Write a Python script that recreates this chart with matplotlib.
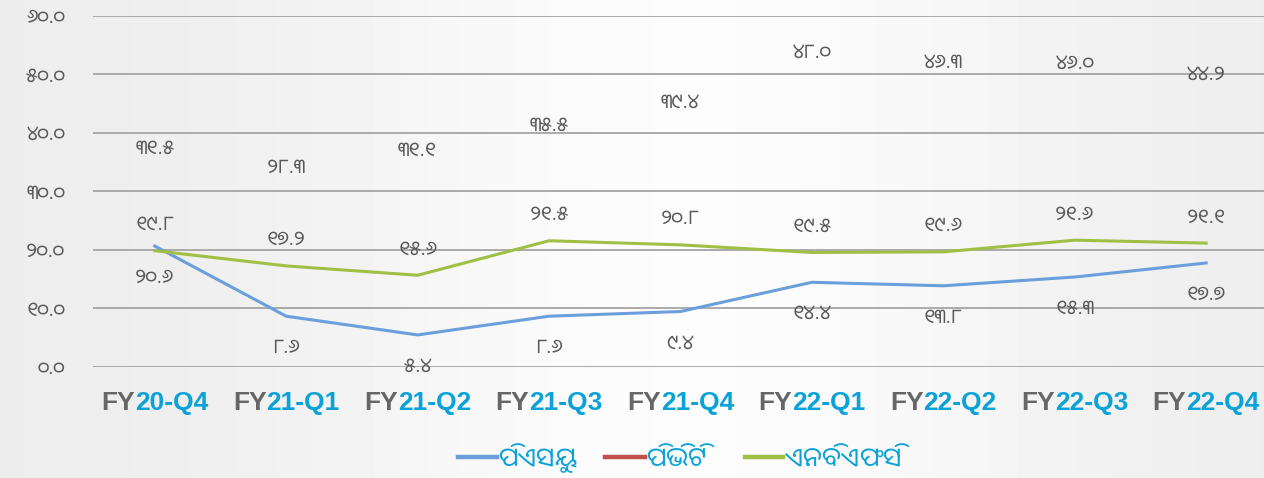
import matplotlib
matplotlib.use("Agg")
import matplotlib.pyplot as plt
import numpy as np
import unicodedata
from matplotlib.lines import Line2D
from matplotlib import font_manager as fm
from matplotlib.ft2font import FT2Font

# ---------------- data ----------------
categories = ["FY20-Q4", "FY21-Q1", "FY21-Q2", "FY21-Q3", "FY21-Q4",
              "FY22-Q1", "FY22-Q2", "FY22-Q3", "FY22-Q4"]
psu = [20.6, 8.6, 5.4, 8.6, 9.4, 14.4, 13.8, 15.3, 17.7]
pvt = [31.5, 28.3, 31.1, 35.5, 39.4, 48.0, 46.3, 46.0, 44.2]
nbfc = [19.8, 17.2, 15.6, 21.5, 20.8, 19.5, 19.6, 21.6, 21.1]
series_names = ["ପିଏସୟୁ", "ପିଭିଟି", "ଏନବିଏଫସି"]
yticks = [0, 10, 20, 30, 40, 50, 60]

ODIA = str.maketrans("0123456789", "୦୧୨୩୪୫୬୭୮୯")
def od(v):
    return f"{v:.1f}".translate(ODIA)

ODIA_FONT = ["Noto Sans Oriya", "DejaVu Sans"]
BLUE = "#6a9fdb"
RED = "#c0504d"
GREEN = "#a0bf45"
CYAN = "#0aa2d8"
GRAYTXT = "#595959"
NUM_SIZE = 14.5

plt.rcParams["mathtext.fontset"] = "custom"
plt.rcParams["mathtext.rm"] = "Noto Sans Oriya"
plt.rcParams["mathtext.it"] = "DejaVu Sans:italic"
plt.rcParams["mathtext.default"] = "it"

W, H = 1264, 478
DPI = 100
fig = plt.figure(figsize=(W / DPI, H / DPI), dpi=DPI)

# background gradient
bg = fig.add_axes([0, 0, 1, 1], zorder=-10)
xs = np.linspace(0, 1, 400)
vals = 0.927 + 0.062 * np.exp(-((xs - 0.55) / 0.3) ** 2)
bg.imshow(np.tile(vals, (10, 1)), cmap="gray", vmin=0, vmax=1, aspect="auto",
          extent=[0, 1, 0, 1])
bg.axis("off")

# plot axes
x0, x1 = 93, 1264
y_bottom, y_top = 366.5, 15.6
ax = fig.add_axes([x0 / W, (H - y_bottom) / H, (x1 - x0) / W, (y_bottom - y_top) / H])
ax.patch.set_alpha(0)
x = np.arange(len(categories))
ax.set_xlim(-0.47, len(categories) - 1 + 0.44)
ax.set_ylim(0, 60)
for s in ax.spines.values():
    s.set_visible(False)
ax.set_yticks(yticks)
ax.set_yticklabels([od(v) for v in yticks], family=ODIA_FONT, fontsize=NUM_SIZE,
                   color=GRAYTXT)
ax.tick_params(axis="y", length=0, pad=20)
ax.set_xticks([])
ax.grid(axis="y", color="#aaaaaa", linewidth=1.4)
ax.set_axisbelow(True)

ax.plot(x, pvt, color=RED, linewidth=0)
ax.plot(x, psu, color=BLUE, linewidth=2.2, solid_joinstyle="round")
ax.plot(x, nbfc, color=GREEN, linewidth=2.2, solid_joinstyle="round")

for i in range(len(categories)):
    ax.annotate(od(pvt[i]), (x[i], pvt[i]), xytext=(0, 24), textcoords="offset points",
                ha="center", va="center", family=ODIA_FONT, fontsize=NUM_SIZE, color=GRAYTXT)
    ax.annotate(od(nbfc[i]), (x[i], nbfc[i]), xytext=(0, 18.5), textcoords="offset points",
                ha="center", va="center", family=ODIA_FONT, fontsize=NUM_SIZE, color=GRAYTXT)
    ax.annotate(od(psu[i]), (x[i], psu[i]), xytext=(0, -23), textcoords="offset points",
                ha="center", va="center", family=ODIA_FONT, fontsize=NUM_SIZE, color=GRAYTXT)

# two-colour category labels
renderer = fig.canvas.get_renderer()
label_y = 1 - 403 / H
for i, cat in enumerate(categories):
    pre, rest = cat[:2], cat[2:]
    xd = ax.transData.transform((x[i], 0))[0] / W
    kw = dict(fontsize=19, fontweight="bold", family="Liberation Sans", va="center")
    t_full = fig.text(xd, label_y, cat, ha="center", **kw)
    bb = t_full.get_window_extent(renderer)
    t_full.remove()
    t_pre = fig.text(bb.x0 / W, label_y, pre, ha="left", color="#666666", **kw)
    bp = t_pre.get_window_extent(renderer)
    fig.text(bp.x1 / W, label_y, rest, ha="left", color=CYAN, **kw)

# ---------- legend: Odia labels with vowel signs placed by hand ----------
LEG_SIZE = 19
ft = FT2Font(fm.findfont(fm.FontProperties(family="Noto Sans Oriya")))
ft.set_size(LEG_SIZE, DPI)
ft_it = FT2Font(fm.findfont(fm.FontProperties(family="DejaVu Sans", style="italic")))
ft_it.set_size(LEG_SIZE, DPI)
EM = ft_it.load_char(ord("m")).linearHoriAdvance / 65536.0   # unit of \hspace

def metrics(ch):
    g = ft.load_char(ord(ch))
    return (g.linearHoriAdvance / 65536.0, g.horiBearingX / 64.0, g.width / 64.0)

def shaped(s):
    parts = []
    pen = 0.0
    prev = None
    for ch in s:
        adv, bx, wd = metrics(ch)
        if unicodedata.category(ch) in ("Mn", "Mc") and prev is not None:
            bl, bw, pen_after = prev
            if ch == "\u0B3F":
                target = bl + bw * 0.62
            else:
                target = bl + bw * 0.5 - wd * 0.5
            shift = target - (pen + bx)
            parts.append(r"\hspace{%.4f}" % (shift / EM))
            parts.append(ch)
            pen += shift + adv
            want = max(pen_after, target + wd * 0.55)
            parts.append(r"\hspace{%.4f}" % ((want - pen) / EM))
            pen = want
        else:
            parts.append(ch)
            prev = (pen + bx, wd, pen + adv)
            pen += adv
    return r"$\mathrm{" + "".join(parts) + "}$"

legend_line_y = 1 - 457 / H
legend_base_y = (H - 466) / H
lines_px = [(458, 497), (605, 645), (745, 783)]
leg_texts = []
for (a, b), c, name in zip(lines_px, (BLUE, RED, GREEN), series_names):
    fig.add_artist(Line2D([a / W, b / W], [legend_line_y, legend_line_y], color=c,
                          linewidth=3.2, transform=fig.transFigure))
    leg_texts.append(fig.text((b + 1) / W, legend_base_y, shaped(name), ha="left",
                              va="baseline", fontsize=LEG_SIZE, color=CYAN))
try:
    fig.canvas.draw()
except Exception:
    for t, (a, b) in zip(leg_texts, lines_px):
        t.set_text(series_names[lines_px.index((a, b))])
        t.set_family(ODIA_FONT)

fig.savefig("out.png", dpi=DPI)
